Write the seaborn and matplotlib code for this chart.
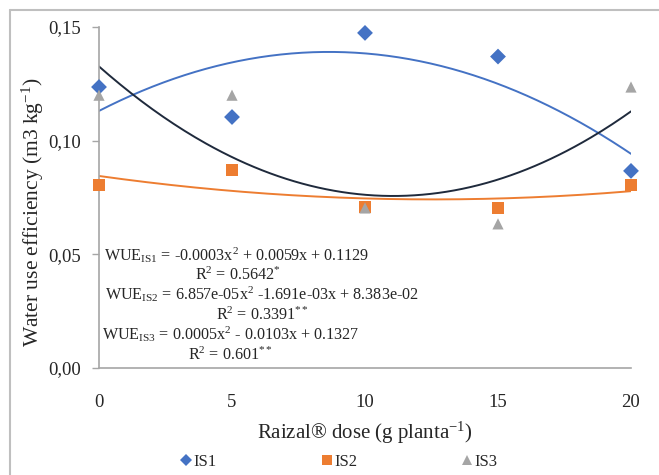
import numpy as np
import pandas as pd
import matplotlib
matplotlib.use("Agg")
import matplotlib.pyplot as plt
from matplotlib.lines import Line2D
import seaborn as sns

# Dose de Raizal (g planta-1)
dose = [0, 5, 10, 15, 20]
wue_is1 = [0.1236, 0.1104, 0.1474, 0.1370, 0.0867]
wue_is2 = [0.0805, 0.0871, 0.0708, 0.0704, 0.0805]
wue_is3 = [0.1200, 0.1200, 0.0704, 0.0634, 0.1236]

series = ["IS1", "IS2", "IS3"]
colores = {"IS1": "#4472C4", "IS2": "#ED7D31", "IS3": "#A5A5A5"}
marcadores = {"IS1": "D", "IS2": "s", "IS3": "^"}
color_tendencia = {"IS1": "#4472C4", "IS2": "#ED7D31", "IS3": "#1F2A3C"}

ecuaciones = [
    r"WUE$_{\mathrm{IS1}}$ = -0.0003x$^{2}$ + 0.0059x + 0.1129",
    r"R$^{2}$ = 0.5642$^{*}$",
    r"WUE$_{\mathrm{IS2}}$ = 6.857e-05x$^{2}$ -1.691e-03x + 8.383e-02",
    r"R$^{2}$ = 0.3391$^{**}$",
    r"WUE$_{\mathrm{IS3}}$ = 0.0005x$^{2}$ - 0.0103x + 0.1327",
    r"R$^{2}$ = 0.601$^{**}$",
]
yticks = [0.0, 0.05, 0.10, 0.15]
ytick_labels = ["0,00", "0,05", "0,10", "0,15"]
xticks = [0, 5, 10, 15, 20]

datos = pd.DataFrame({
    "dose": dose * 3,
    "wue": wue_is1 + wue_is2 + wue_is3,
    "serie": ["IS1"] * 5 + ["IS2"] * 5 + ["IS3"] * 5,
})

sns.set_style("white")
plt.rcParams["font.family"] = ["Liberation Serif", "DejaVu Serif"]
plt.rcParams["mathtext.fontset"] = "custom"
plt.rcParams["mathtext.rm"] = "Liberation Serif"
plt.rcParams["mathtext.it"] = "Liberation Serif:italic"
plt.rcParams["mathtext.bf"] = "Liberation Serif:bold"

fig = plt.figure(figsize=(6.59, 4.75), dpi=100)
ax = fig.add_axes([99 / 659, 1 - 368 / 475, 532 / 659, 341 / 475])

# Lineas de tendencia polinomica (orden 2), como en Excel
xs = np.linspace(0, 20, 200)
for s, vals in zip(series, [wue_is1, wue_is2, wue_is3]):
    coef = np.polyfit(dose, vals, 2)
    ax.plot(xs, np.polyval(coef, xs), color=color_tendencia[s], lw=1.4, zorder=2)

sns.scatterplot(data=datos, x="dose", y="wue", hue="serie", style="serie",
                palette=colores, markers=marcadores, s=65, edgecolor="none",
                legend=False, ax=ax, zorder=3, clip_on=False)

ax.set_xlim(0, 20)
ax.set_ylim(0, 0.15)
ax.set_yticks(yticks)
ax.set_yticklabels(ytick_labels, fontsize=13.5)
ax.set_xticks(xticks)
ax.set_xticklabels([str(v) for v in xticks], fontsize=13.5)
ax.tick_params(axis="y", length=5, width=1, color="#A6A6A6", pad=8, left=True)
ax.tick_params(axis="x", length=0, pad=19)

for lado in ["top", "right"]:
    ax.spines[lado].set_visible(False)
for lado in ["left", "bottom"]:
    ax.spines[lado].set_color("#A6A6A6")
    ax.spines[lado].set_linewidth(1.2)

ax.set_xlabel("Raizal® dose (g planta$^{-1}$)", fontsize=15, labelpad=6)
ax.set_ylabel("Water use efficiency (m3 kg$^{-1}$)", fontsize=15.5, va="center")
ax.yaxis.set_label_coords(-0.124, 0.457)

# Ecuaciones de las tendencias
pos_x = [237, 238, 262, 262, 231, 230]
pos_y = [255, 275, 294, 315, 334, 355]
for texto, px, py in zip(ecuaciones, pos_x, pos_y):
    ax.text((px - 99) / 532, (368 - py) / 341, texto, transform=ax.transAxes,
            ha="center", va="center", fontsize=11.6, zorder=4)

# Leyenda inferior
manijas = [Line2D([], [], ls="none", marker=marcadores[s], color=colores[s],
                  markersize=6.5, markeredgewidth=0) for s in series]
fig.legend(manijas, series, loc="center", bbox_to_anchor=(0.515, 1 - 462 / 475),
           ncol=3, frameon=False, fontsize=12, handlelength=0.6,
           handletextpad=0.15, columnspacing=6.3)

# Marco gris de la figura
fig.add_artist(Line2D([10 / 659, 1], [1 - 10 / 475, 1 - 10 / 475],
                      color="#BFBFBF", lw=1.5, transform=fig.transFigure))
fig.add_artist(Line2D([10 / 659, 10 / 659], [0, 1 - 10 / 475],
                      color="#BFBFBF", lw=1.5, transform=fig.transFigure))

fig.savefig("out.png", dpi=100, facecolor="white")
plt.close(fig)
